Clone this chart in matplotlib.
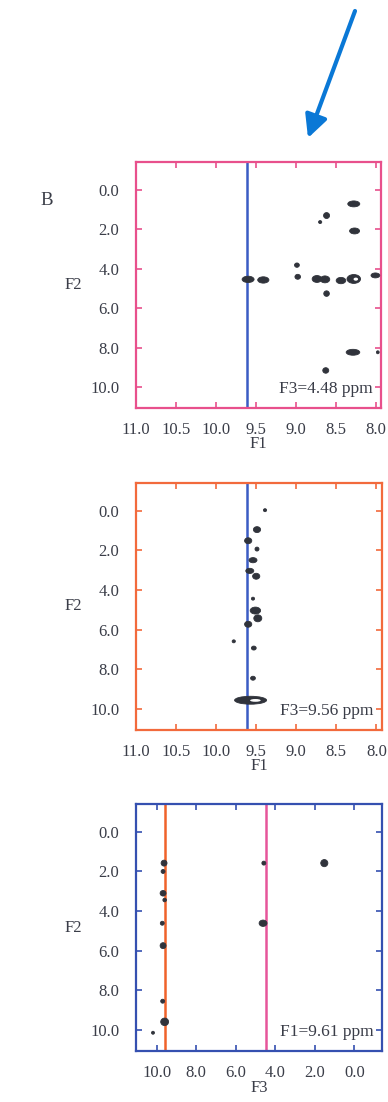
import matplotlib
matplotlib.use("Agg")
import matplotlib.pyplot as plt
from matplotlib.patches import Ellipse, FancyArrowPatch

# ---- peak lists (ppm) ----
# Strip 1: F1/F2 plane at F3 = 4.48 ppm
p1_f1 = [8.28, 8.27, 8.62, 8.70, 8.99, 8.98, 9.60, 9.41, 8.74, 8.64, 8.44, 8.28, 8.01, 8.62, 8.29, 7.98, 8.63]
p1_f2 = [0.72, 2.09, 1.31, 1.64, 3.82, 4.41, 4.54, 4.57, 4.52, 4.54, 4.60, 4.52, 4.34, 5.26, 8.23, 8.23, 9.15]
p1_w1 = [0.15, 0.125, 0.075, 0.04, 0.06, 0.07, 0.15, 0.14, 0.12, 0.12, 0.12, 0.17, 0.11, 0.07, 0.17, 0.035, 0.075]
p1_w2 = [0.30, 0.30, 0.30, 0.15, 0.22, 0.25, 0.32, 0.32, 0.35, 0.35, 0.32, 0.45, 0.25, 0.28, 0.30, 0.15, 0.28]
p1_open = [11]

# Strip 2: F1/F2 plane at F3 = 9.56 ppm
p2_f1 = [9.39, 9.49, 9.60, 9.49, 9.54, 9.58, 9.50, 9.54, 9.51, 9.48, 9.60, 9.78, 9.53, 9.54, 9.57]
p2_f2 = [-0.03, 0.95, 1.51, 1.93, 2.49, 3.03, 3.30, 4.43, 5.03, 5.42, 5.72, 6.58, 6.92, 8.44, 9.55]
p2_w1 = [0.04, 0.09, 0.09, 0.05, 0.10, 0.10, 0.09, 0.04, 0.13, 0.10, 0.09, 0.04, 0.06, 0.06, 0.40]
p2_w2 = [0.15, 0.30, 0.30, 0.20, 0.26, 0.26, 0.30, 0.15, 0.35, 0.35, 0.30, 0.15, 0.20, 0.20, 0.40]
p2_open = [14]

# Strip 3: F3/F2 plane at F1 = 9.61 ppm
p3_f3 = [9.63, 9.68, 9.68, 9.60, 9.72, 9.68, 9.70, 9.60, 10.19, 4.58, 4.62, 1.52]
p3_f2 = [1.58, 2.00, 3.10, 3.44, 4.61, 5.74, 8.54, 9.58, 10.13, 1.58, 4.61, 1.58]
p3_w3 = [0.30, 0.20, 0.30, 0.18, 0.20, 0.30, 0.20, 0.40, 0.15, 0.20, 0.40, 0.36]
p3_w2 = [0.30, 0.20, 0.28, 0.18, 0.20, 0.30, 0.20, 0.38, 0.15, 0.20, 0.32, 0.36]

f1_ticks = [11.0, 10.5, 10.0, 9.5, 9.0, 8.5, 8.0]
f3_ticks = [10.0, 8.0, 6.0, 4.0, 2.0, 0.0]
f2_ticks = [0.0, 2.0, 4.0, 6.0, 8.0, 10.0]

plane1 = "F3=4.48 ppm"
plane2 = "F3=9.56 ppm"
plane3 = "F1=9.61 ppm"
cut_f1 = 9.61
cut_f3_a = 9.56
cut_f3_b = 4.48

PINK = "#e8508c"
ORANGE = "#f26a3c"
BLUE = "#3550b0"
LINE_BLUE = "#3b5cc4"
LINE_ORANGE = "#f0622a"
LINE_PINK = "#e6559a"
PEAK = "#30333b"
TEXT = "#3a3d48"

plt.rcParams["font.family"] = ["Liberation Serif", "DejaVu Serif"]

fig = plt.figure(figsize=(3.88, 11.02), dpi=100)
W, H = 388, 1102


def make_axes(top, bottom, left=136, right=382):
    return fig.add_axes([left / W, 1 - bottom / H, (right - left) / W, (bottom - top) / H])


def style(ax, color, xticks, xlabel, xfmt="{:.1f}"):
    for s in ax.spines.values():
        s.set_color(color)
        s.set_linewidth(1.6)
    ax.set_yticks(f2_ticks)
    ax.set_yticklabels(["{:.1f}".format(v) for v in f2_ticks])
    ax.set_xticks(xticks)
    ax.set_xticklabels([xfmt.format(v) for v in xticks])
    ax.tick_params(axis="both", which="major", direction="in", length=4, width=1.2,
                   color=color, labelcolor=TEXT, labelsize=12,
                   top=True, right=True, bottom=True, left=True)
    ax.tick_params(axis="y", pad=12)
    ax.tick_params(axis="x", pad=10)
    ax.set_ylim(11.05, -1.4)
    ax.set_ylabel("F2", rotation=0, fontsize=12, color=TEXT, labelpad=12, va="center")
    ax.set_xlabel(xlabel, fontsize=12, color=TEXT, labelpad=-1)


def draw_peaks(ax, xs, ys, wx, wy, open_idx=()):
    for i, (x, y, a, b) in enumerate(zip(xs, ys, wx, wy)):
        ax.add_patch(Ellipse((x, y), a, b, facecolor=PEAK, edgecolor=PEAK, lw=0.6, zorder=3))
        if i in open_idx:
            # hollow centre of the larger contour
            ax.add_patch(Ellipse((x - a * 0.15, y + b * 0.02), a * 0.33, b * 0.35,
                                 facecolor="white", edgecolor="none", zorder=4))


# strip 1
ax1 = make_axes(162, 408, right=381)
ax1.set_xlim(11.0, 7.94)
style(ax1, PINK, f1_ticks, "F1")
ax1.axvline(cut_f1, color=LINE_BLUE, lw=1.8, zorder=2)
draw_peaks(ax1, p1_f1, p1_f2, p1_w1, p1_w2, p1_open)
ax1.text(0.965, 0.045, plane1, transform=ax1.transAxes, ha="right", va="bottom",
         fontsize=12.5, color=TEXT, zorder=5)

# strip 2
ax2 = make_axes(483, 730)
ax2.set_xlim(11.0, 7.93)
style(ax2, ORANGE, f1_ticks, "F1")
ax2.axvline(cut_f1, color=LINE_BLUE, lw=1.8, zorder=2)
draw_peaks(ax2, p2_f1, p2_f2, p2_w1, p2_w2, p2_open)
ax2.text(0.965, 0.045, plane2, transform=ax2.transAxes, ha="right", va="bottom",
         fontsize=12.5, color=TEXT, zorder=5)

# strip 3
ax3 = make_axes(804, 1051)
ax3.set_xlim(11.05, -1.4)
style(ax3, BLUE, f3_ticks, "F3")
ax3.axvline(cut_f3_a, color=LINE_ORANGE, lw=1.8, zorder=2)
ax3.axvline(cut_f3_b, color=LINE_PINK, lw=1.8, zorder=2)
draw_peaks(ax3, p3_f3, p3_f2, p3_w3, p3_w2)
ax3.text(0.965, 0.045, plane3, transform=ax3.transAxes, ha="right", va="bottom",
         fontsize=12.5, color=TEXT, zorder=5)

# panel letter
fig.text(40 / W, 1 - 200 / H, "B", fontsize=13.5, color=TEXT, ha="left", va="center")

# pointer arrow
arrow = FancyArrowPatch((355 / W, 1 - 11 / H), (308 / W, 1 - 138 / H),
                        transform=fig.transFigure, arrowstyle="-|>",
                        mutation_scale=34, lw=3, color="#0a78d6",
                        shrinkA=0, shrinkB=0)
fig.patches.append(arrow)

fig.savefig("out.png", dpi=100, facecolor="white")
